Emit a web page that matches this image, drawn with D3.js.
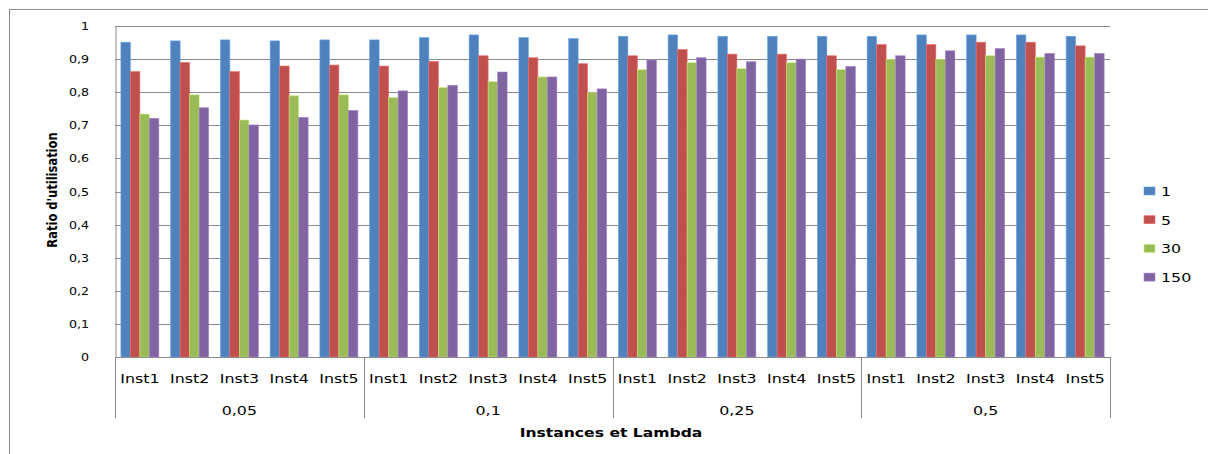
<!DOCTYPE html>
<html><head><meta charset="utf-8">
<script src="https://cdn.jsdelivr.net/npm/d3@7"></script>
<style>
html,body{margin:0;padding:0;background:#fff;}
svg{display:block;}
text{font-family:"DejaVu Sans",Verdana,sans-serif;fill:#000;}
</style></head>
<body><svg id="c" width="1208" height="454"></svg>
<script>
const groups = ["0,05", "0,1", "0,25", "0,5"];
const instances = ["Inst1", "Inst2", "Inst3", "Inst4", "Inst5"];
const seriesNames = ["1", "5", "30", "150"];
const s1   = [0.951,0.955,0.958,0.955,0.958, 0.958,0.965,0.973,0.965,0.962, 0.969,0.973,0.969,0.969,0.969, 0.969,0.973,0.973,0.973,0.969];
const s5   = [0.862,0.890,0.862,0.879,0.882, 0.879,0.893,0.910,0.904,0.886, 0.910,0.929,0.915,0.915,0.910, 0.944,0.944,0.951,0.951,0.940];
const s30  = [0.734,0.792,0.716,0.789,0.792, 0.784,0.814,0.832,0.846,0.798, 0.868,0.889,0.871,0.889,0.868, 0.899,0.899,0.910,0.906,0.906];
const s150 = [0.721,0.753,0.701,0.724,0.745, 0.804,0.821,0.861,0.846,0.810, 0.897,0.904,0.892,0.900,0.878, 0.910,0.925,0.932,0.917,0.917];
const yTicks = [0,0.1,0.2,0.3,0.4,0.5,0.6,0.7,0.8,0.9,1];
const colors = ["#4F81BD", "#C0504D", "#9BBB59", "#8064A2"];

const seriesVals = [s1, s5, s30, s150];
const svg = d3.select("#c");
const SX = 1.3; // horizontal stretch of the original picture

// outer frame
svg.append("rect").attr("x",9.5).attr("y",9.5).attr("width",1240).attr("height",480)
  .attr("fill","none").attr("stroke","#8c8c8c").attr("stroke-width",1);

const L = 115, R = 1110, T = 26, B = 357;
const cats = [];
groups.forEach(g => instances.forEach(i => cats.push(g + "|" + i)));

const x = d3.scaleBand().domain(cats).range([L, R]).paddingInner(0).paddingOuter(0);
const xi = d3.scaleBand().domain(seriesNames).range([0, x.bandwidth()]).paddingInner(0).paddingOuter(0.62);
const y = d3.scaleLinear().domain([0, 1]).range([B, T]);
const fmt = v => d3.format(".1~f")(v).replace(".", ",");

function stretchText(parent, tx, ty, str, k, attrs) {
  const g = parent.append("g").attr("transform", `translate(${tx},${ty}) scale(${k},1)`);
  const t = g.append("text").text(str);
  Object.entries(attrs || {}).forEach(([a, v]) => t.attr(a, v));
  return t;
}

// gridlines
svg.append("g").selectAll("line").data(yTicks.filter(v => v > 0)).join("line")
  .attr("x1", L).attr("x2", R).attr("y1", d => Math.round(y(d)) + 0.5).attr("y2", d => Math.round(y(d)) + 0.5)
  .attr("stroke", "#8a8a8a").attr("stroke-width", 1);

// bars
const gBars = svg.append("g");
seriesNames.forEach((s, si) => {
  gBars.append("g").selectAll("rect").data(seriesVals[si]).join("rect")
    .attr("x", (d, i) => x(cats[i]) + xi(s))
    .attr("width", xi.bandwidth())
    .attr("y", d => y(d))
    .attr("height", d => y(0) - y(d))
    .attr("fill", colors[si])
    .attr("stroke", d3.color(colors[si]).brighter(0.7))
    .attr("stroke-width", 0.6);
});

// y axis
const yAxis = d3.axisLeft(y).tickValues(yTicks).tickSize(0).tickPadding(0).tickFormat(() => "");
const ya = svg.append("g").attr("transform", `translate(${L + 0.5},0)`).call(yAxis);
ya.select(".domain").attr("stroke", "#8a8a8a");
yTicks.forEach(v => {
  stretchText(svg, 89, y(v) + 4, fmt(v), 1.15, {"text-anchor": "end", "font-size": "11px"});
});

// x axis line
svg.append("line").attr("x1", L).attr("x2", R).attr("y1", B + 0.5).attr("y2", B + 0.5)
  .attr("stroke", "#8a8a8a");
// group dividers
const gw = (R - L) / groups.length;
d3.range(groups.length + 1).forEach(k => {
  const xx = Math.round(L + k * gw) + 0.5;
  svg.append("line").attr("x1", xx).attr("x2", xx).attr("y1", B).attr("y2", 418)
    .attr("stroke", "#8a8a8a");
});
// instance labels
cats.forEach((c, i) => {
  stretchText(svg, x(c) + x.bandwidth() / 2, 383, instances[i % instances.length], 1.32,
    {"text-anchor": "middle", "font-size": "12px"});
});
groups.forEach((g, k) => {
  stretchText(svg, L + (k + 0.5) * gw, 415, g, 1.32, {"text-anchor": "middle", "font-size": "12px"});
});

// axis titles
stretchText(svg, 611, 437, "Instances et  Lambda", 1.3,
  {"text-anchor": "middle", "font-size": "12px", "font-weight": "bold"});
svg.append("g").attr("transform", `translate(57,190) scale(1.3,1) rotate(-90)`)
  .append("text").text("Ratio d'utilisation").attr("text-anchor", "middle")
  .attr("font-size", "11.5px").attr("font-weight", "bold");

// legend
const leg = svg.append("g");
seriesNames.forEach((s, si) => {
  const cy = 191 + si * 28.7;
  leg.append("rect").attr("x", 1144).attr("y", cy - 4).attr("width", 11).attr("height", 8)
    .attr("fill", colors[si]).attr("stroke", d3.color(colors[si]).brighter(0.7)).attr("stroke-width", 0.6);
  stretchText(leg, 1161, cy + 5, s, 1.32, {"font-size": "12px"});
});
</script></body></html>
